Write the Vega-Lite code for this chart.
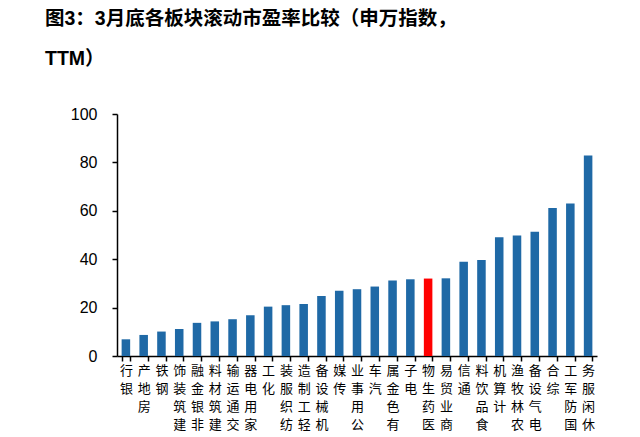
{
  "$schema": "https://vega.github.io/schema/vega-lite/v6.json",
  "autosize": "none",
  "width": 480,
  "height": 242,
  "padding": {"left": 117, "top": 114, "right": 43, "bottom": 81},
  "background": "white",
  "title": {
    "text": ["图3：3月底各板块滚动市盈率比较（申万指数，", "TTM）"],
    "anchor": "start",
    "frame": "group",
    "dx": -72,
    "offset": 37,
    "font": "Liberation Sans, Noto Sans CJK SC",
    "fontSize": 19.5,
    "fontWeight": "bold",
    "color": "#000000",
    "lineHeight": 40
  },
  "data": {
    "values": [
      {"industry": "银行", "pe": 6.9},
      {"industry": "房地产", "pe": 8.7},
      {"industry": "钢铁", "pe": 10.1},
      {"industry": "建筑装饰", "pe": 11.2},
      {"industry": "非银金融", "pe": 13.7},
      {"industry": "建筑材料", "pe": 14.3},
      {"industry": "交通运输", "pe": 15.2},
      {"industry": "家用电器", "pe": 16.8},
      {"industry": "化工", "pe": 20.4},
      {"industry": "纺织服装", "pe": 21.0},
      {"industry": "轻工制造", "pe": 21.5},
      {"industry": "机械设备", "pe": 24.8},
      {"industry": "传媒", "pe": 27.0},
      {"industry": "公用事业", "pe": 27.6},
      {"industry": "汽车", "pe": 28.7},
      {"industry": "有色金属", "pe": 31.2},
      {"industry": "电子", "pe": 31.7},
      {"industry": "医药生物", "pe": 32.0},
      {"industry": "商业贸易", "pe": 32.1},
      {"industry": "通信", "pe": 38.9},
      {"industry": "食品饮料", "pe": 39.7},
      {"industry": "计算机", "pe": 49.1},
      {"industry": "农林牧渔", "pe": 49.8},
      {"industry": "电气设备", "pe": 51.3},
      {"industry": "综合", "pe": 61.2},
      {"industry": "国防军工", "pe": 63.0},
      {"industry": "休闲服务", "pe": 82.9}
    ]
  },
  "mark": {"type": "bar"},
  "encoding": {
    "x": {
      "field": "industry",
      "type": "nominal",
      "sort": null,
      "title": null,
      "scale": {"paddingInner": 0.52, "paddingOuter": 0.26},
      "axis": {
        "labelAngle": 0,
        "labelExpr": "reverse(split(datum.label, ''))",
        "labelFont": "Noto Sans CJK SC",
        "labelFontSize": 13,
        "labelLineHeight": 18,
        "labelBaseline": "top",
        "labelColor": "#000000",
        "labelPadding": 3,
        "labelOverlap": false,
        "labelBound": false,
        "tickBand": "extent",
        "tickSize": 5,
        "tickColor": "#000000",
        "tickWidth": 1.5,
        "domainColor": "#000000",
        "domainWidth": 1.5
      }
    },
    "y": {
      "field": "pe",
      "type": "quantitative",
      "title": null,
      "scale": {"domain": [0, 100], "nice": false},
      "axis": {
        "values": [0, 20, 40, 60, 80, 100],
        "grid": false,
        "labelFont": "Liberation Sans",
        "labelFontSize": 16,
        "labelColor": "#000000",
        "labelPadding": 15,
        "tickSize": 5,
        "tickColor": "#000000",
        "tickWidth": 1.5,
        "domainColor": "#000000",
        "domainWidth": 1.5
      }
    },
    "color": {
      "condition": {"test": "datum.industry === '医药生物'", "value": "#FF0000"},
      "value": "#1F69A6"
    }
  },
  "config": {"view": {"stroke": null}}
}
